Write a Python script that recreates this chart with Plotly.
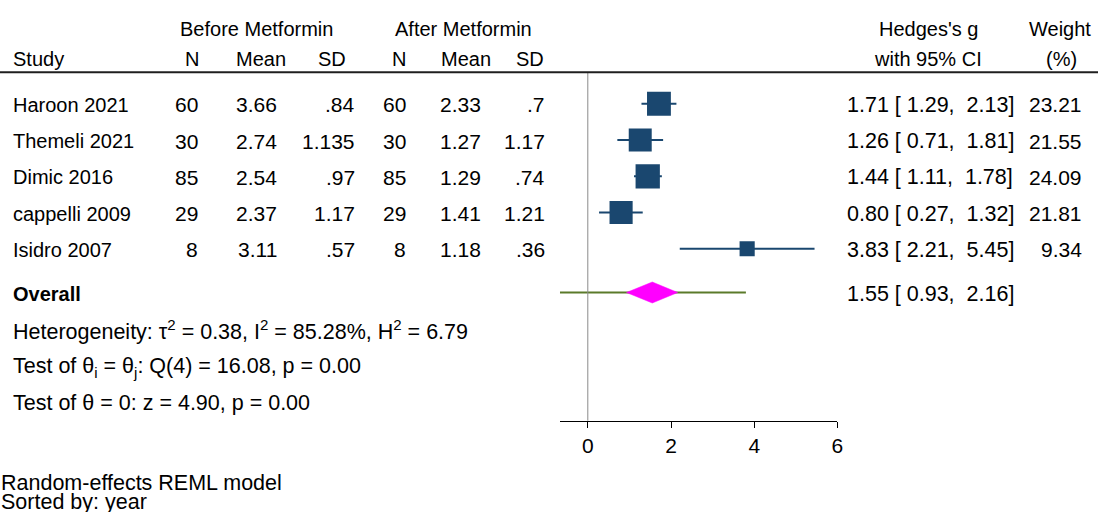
import math
import plotly.graph_objects as go

# ---------------- data ----------------
studies = ["Haroon 2021", "Themeli 2021", "Dimic 2016", "cappelli 2009", "Isidro 2007"]
n_before = ["60", "30", "85", "29", "8"]
mean_before = ["3.66", "2.74", "2.54", "2.37", "3.11"]
sd_before = [".84", "1.135", ".97", "1.17", ".57"]
n_after = ["60", "30", "85", "29", "8"]
mean_after = ["2.33", "1.27", "1.29", "1.41", "1.18"]
sd_after = [".7", "1.17", ".74", "1.21", ".36"]
hedges_g = [1.71, 1.26, 1.44, 0.80, 3.83]
ci_low = [1.29, 0.71, 1.11, 0.27, 2.21]
ci_high = [2.13, 1.81, 1.78, 1.32, 5.45]
weights = [23.21, 21.55, 24.09, 21.81, 9.34]

overall_g = 1.55
overall_low = 0.93
overall_high = 2.16
pred_low = -0.67
pred_high = 3.80

x_ticks = [0, 2, 4, 6]

het_text = "Heterogeneity: τ<sup>2</sup> = 0.38, I<sup>2</sup> = 85.28%, H<sup>2</sup> = 6.79"
test1_text = "Test of θ<sub>i</sub> = θ<sub>j</sub>: Q(4) = 16.08, p = 0.00"
test2_text = "Test of θ = 0: z = 4.90, p = 0.00"
note1 = "Random-effects REML model"
note2 = "Sorted by: year"

# ---------------- layout constants ----------------
W, H = 1104, 512
FONT = "Liberation Sans, Arial, Helvetica, sans-serif"
FS_LBL = 20      # headers and study names
FS_NUM = 21      # numeric table columns
FS_WIDE = 21.5   # CI strings, statistics and notes
ROW0_PX = 103.8
ROW_STEP = 36.25
AXIS_PX = 420.7
PLOT_L, PLOT_R = 563, 842
NAVY = "#1a476f"
TEXT_DY = 1


def r_of(px):
    return (px - ROW0_PX) / ROW_STEP


rows = list(range(len(studies)))
r_overall = r_of(292.5)
r_het, r_t1, r_t2 = r_of(329), r_of(366), r_of(402)
r_h1, r_h2 = r_of(28.3), r_of(57.5)
r_sep = r_of(72.3)
r_axis = r_of(AXIS_PX)
r_n1, r_n2 = r_of(482), r_of(500.5)

fig = go.Figure()

# prediction interval line
fig.add_trace(go.Scatter(x=[pred_low, pred_high], y=[r_overall, r_overall], mode="lines",
                         line=dict(color="#5b7a2a", width=2), hoverinfo="skip"))
# CI lines
for i in rows:
    fig.add_trace(go.Scatter(x=[ci_low[i], ci_high[i]], y=[i, i], mode="lines",
                             line=dict(color=NAVY, width=2), hoverinfo="skip"))
# squares (area proportional to weight)
wmax = max(weights)
sizes = [24.3 * math.sqrt(w / wmax) for w in weights]
fig.add_trace(go.Scatter(x=hedges_g, y=rows, mode="markers",
                         marker=dict(symbol="square", size=sizes, color=NAVY, opacity=1,
                                     line=dict(width=0)),
                         hoverinfo="skip"))
# diamond
dh = 10.5 / ROW_STEP
fig.add_trace(go.Scatter(x=[overall_low, overall_g, overall_high, overall_g, overall_low],
                         y=[r_overall, r_overall - dh, r_overall, r_overall + dh, r_overall],
                         mode="lines", fill="toself", fillcolor="#ff00ff",
                         line=dict(color="#ff00ff", width=0.5), hoverinfo="skip"))
# no-effect line
fig.add_trace(go.Scatter(x=[0, 0], y=[r_sep, r_axis], mode="lines",
                         line=dict(color="#8a8a8a", width=1), hoverinfo="skip"))

ann = []


def txt(xpx, r, s, anchor="left", size=FS_NUM):
    ann.append(dict(x=xpx / W, xref="paper", y=r, yref="y", text=s, showarrow=False,
                    xanchor=anchor, yanchor="middle", yshift=-TEXT_DY,
                    font=dict(family=FONT, size=size, color="black"), borderpad=0))


# headers
txt(257.5, r_h1, "Before Metformin", "center", FS_LBL)
txt(466.5, r_h1, "After Metformin", "center", FS_LBL)
txt(933.5, r_h1, "Hedges's g", "center", FS_LBL)
txt(1066, r_h1, "Weight", "center", FS_LBL)
txt(12, r_h2, "Study", "left", FS_LBL)
txt(193, r_h2, "N", "center", FS_LBL)
txt(262.5, r_h2, "Mean", "center", FS_LBL)
txt(333.5, r_h2, "SD", "center", FS_LBL)
txt(401.5, r_h2, "N", "center", FS_LBL)
txt(468.5, r_h2, "Mean", "center", FS_LBL)
txt(533, r_h2, "SD", "center", FS_LBL)
txt(933, r_h2, "with 95% CI", "center", FS_LBL)
txt(1067, r_h2, "(%)", "center", FS_LBL)


def ci_str(e, l, h):
    return f"{e:.2f} [{l:5.2f}, {h:5.2f}]".replace(" ", "\u00a0")


for i in rows:
    txt(12, i, studies[i], "left", FS_LBL)
    txt(200, i, n_before[i], "right")
    txt(280, i, mean_before[i], "right")
    txt(358, i, sd_before[i], "right")
    txt(409, i, n_after[i], "right")
    txt(485, i, mean_after[i], "right")
    txt(549, i, sd_after[i], "right")
    txt(851, i, ci_str(hedges_g[i], ci_low[i], ci_high[i]), "left", FS_WIDE)
    txt(1089, i, f"{weights[i]:.2f}", "right")

txt(12, r_overall, "<b>Overall</b>", "left", FS_LBL)
txt(851, r_overall, ci_str(overall_g, overall_low, overall_high), "left", FS_WIDE)
txt(12, r_het, het_text, "left", FS_WIDE)
txt(12, r_t1, test1_text, "left", FS_WIDE)
txt(12, r_t2, test2_text, "left", FS_WIDE)
txt(0, r_n1, note1, "left", FS_WIDE)
txt(0, r_n2, note2, "left", FS_WIDE)

shapes = [dict(type="line", xref="paper", x0=0, x1=1, yref="y", y0=r_sep, y1=r_sep,
               line=dict(color="#1f1f1f", width=2))]

fig.update_layout(
    width=W, height=H, autosize=False,
    margin=dict(l=0, r=0, t=0, b=0),
    paper_bgcolor="white", plot_bgcolor="white",
    showlegend=False,
    annotations=ann, shapes=shapes,
    xaxis=dict(domain=[PLOT_L / W, PLOT_R / W], range=[pred_low, 6.0],
               anchor="free", position=1 - AXIS_PX / H,
               showline=True, linecolor="black", linewidth=1,
               ticks="outside", ticklen=6, tickwidth=1, tickcolor="black",
               tickvals=x_ticks, ticktext=[str(t) for t in x_ticks],
               tickfont=dict(family=FONT, size=FS_NUM, color="black"),
               showgrid=False, zeroline=False, fixedrange=True),
    yaxis=dict(domain=[0, 1], range=[(H - ROW0_PX) / ROW_STEP, -ROW0_PX / ROW_STEP],
               visible=False, showgrid=False, zeroline=False, fixedrange=True),
)

fig.write_html("out.html", config={"displayModeBar": False})
